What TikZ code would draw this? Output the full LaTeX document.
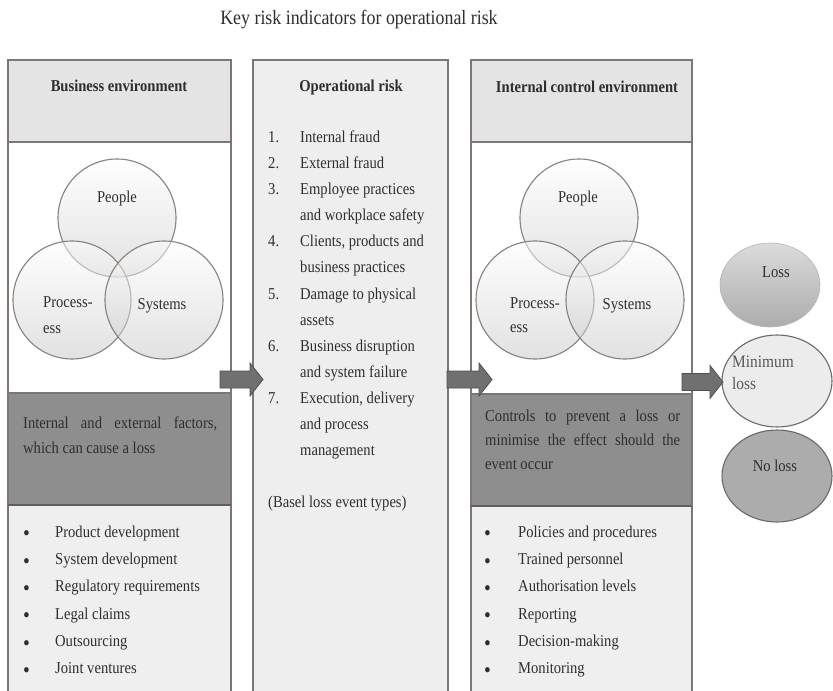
\documentclass[tikz,border=0pt]{standalone}
\usepackage{fontspec}
\setmainfont[FakeStretch=0.88]{Liberation Serif}
\usetikzlibrary{shapes.geometric}
\definecolor{ink}{HTML}{2E2E2E}
\definecolor{frame}{HTML}{7E7672}
\definecolor{hdrfill}{HTML}{E4E4E4}
\definecolor{bandfill}{HTML}{8E8E8E}
\definecolor{listfill}{HTML}{EFEFEF}
\definecolor{midfill}{HTML}{EEEEEE}
\definecolor{arrowfill}{HTML}{707070}
\definecolor{arrowdraw}{HTML}{4F4F4F}
\definecolor{venn}{HTML}{8A807B}
\definecolor{ellborder}{HTML}{6A6A6A}
\hyphenpenalty=10000
\newcommand{\myblockarrow}[3]{%
  \draw[blockarr] (#1) ++(0,-8.5) -- ++(#3,0) -- ++(0,-8) -- (#2) -- ++(-13,16.5) -- ++(0,-8) -- ++(-#3,0) -- cycle;}
\begin{document}
\begin{tikzpicture}[x=1pt,y=-1pt,
  txt/.style={font=\fontsize{16.6}{20}\selectfont, text=ink, inner sep=0pt, anchor=west, text height=11pt, text depth=3pt},
  bul/.style={font=\fontsize{22}{22}\selectfont, text=ink, inner sep=0pt, anchor=west, text height=9pt, text depth=0pt},
  hdrtxt/.style={font=\fontsize{16.6}{20}\selectfont\bfseries, text=ink, inner sep=0pt, text height=11pt, text depth=3pt},
  bandtxt/.style={font=\fontsize{16.6}{25}\selectfont, text=ink, inner sep=0pt, align=justify, anchor=north west},
  frameline/.style={draw=frame, line width=1.2pt},
  vennc/.style={top color=white, bottom color=gray!45, fill opacity=0.5, draw=venn, line width=1.1pt},
  blockarr/.style={draw=arrowdraw, fill=arrowfill, line width=0.8pt, line join=miter},
  outcome/.style={ellipse, draw=ellborder, line width=1.1pt, inner sep=0pt, text=ink}
]
\useasboundingbox (0,0) rectangle (833,691);
\clip (0,0) rectangle (833,691);
\fill[white] (0,0) rectangle (833,691);

% title
\node[font=\fontsize{20.3}{24}\selectfont, text=ink, inner sep=0pt] (title) at (359,20) {Key risk indicators for operational risk};

% ---------- left column ----------
\fill[hdrfill] (8,60) rectangle (231,142);
\fill[white] (8,142) rectangle (231,393);
\fill[bandfill] (8,393) rectangle (231,505);
\fill[listfill] (8,505) rectangle (231,700);
\draw[frameline] (8,700) -- (8,60) -- (231,60) -- (231,700);
\draw[frameline] (8,142) -- (231,142);
\draw[frameline] (8,393) -- (231,393);
\draw[draw=frame!80!black, line width=1.6pt] (8,505) -- (231,505);

\node[hdrtxt] (lhead) at (119,87) {Business environment};

\shade[vennc] (117,218) circle[radius=59pt];
\shade[vennc] (72,300) circle[radius=59pt];
\shade[vennc] (164,300) circle[radius=59pt];
\node[txt, anchor=center] (lpeople) at (117,198) {People};
\node[txt, anchor=north west, align=left, font=\fontsize{16.6}{26}\selectfont, text height=, text depth=] (lproc) at (43,296) {Process-\\ess};
\node[txt, anchor=center] (lsys) at (162,305) {Systems};

\node[bandtxt, text width=194pt] (lband) at (23,417) {Internal and external factors, which can cause a loss};

\foreach \t [count=\i] in {Product development, System development, Regulatory requirements, Legal claims, Outsourcing, Joint ventures}{
  \node[txt] (lb\i) at (55,506+27.3*\i) {\t};
  \node[bul] (lbd\i) at (23,509+27.3*\i) {•};
}

% ---------- middle column ----------
\fill[midfill] (253,60) rectangle (448,700);
\draw[frameline] (253,700) -- (253,60) -- (448,60) -- (448,700);
\node[hdrtxt] (mhead) at (351,87) {Operational risk};
\foreach \y/\t [count=\i] in {138/Internal fraud, 164/External fraud, 190/Employee practices, 216/and workplace safety, 242/{Clients, products and}, 268/business practices, 295/Damage to physical, 321/assets, 347/Business disruption, 373/and system failure, 399/{Execution, delivery}, 425/and process, 451/management}{
  \node[txt] (m\i) at (300,\y) {\t};
}
\foreach \y/\k in {138/1, 164/2, 190/3, 242/4, 295/5, 347/6, 399/7}{
  \node[txt] (n\k) at (268,\y) {\k.};
}
\node[txt] (basel) at (268,503) {(Basel loss event types)};

% ---------- right column ----------
\fill[hdrfill] (471,60) rectangle (692,142);
\fill[white] (471,142) rectangle (692,394);
\fill[bandfill] (471,394) rectangle (692,506);
\fill[listfill] (471,506) rectangle (692,700);
\draw[frameline] (471,700) -- (471,60) -- (692,60) -- (692,700);
\draw[frameline] (471,142) -- (692,142);
\draw[frameline] (471,394) -- (692,394);
\draw[draw=frame!80!black, line width=1.6pt] (471,506) -- (692,506);

\node[hdrtxt] (rhead) at (587,88) {Internal control environment};

\shade[vennc] (579,218) circle[radius=59pt];
\shade[vennc] (535,300) circle[radius=59pt];
\shade[vennc] (625,300) circle[radius=59pt];
\node[txt, anchor=center] (rpeople) at (578,198) {People};
\node[txt, anchor=north west, align=left, font=\fontsize{16.6}{24}\selectfont, text height=, text depth=] (rproc) at (510,297) {Process-\\ess};
\node[txt, anchor=center] (rsys) at (627,305) {Systems};

\node[bandtxt, text width=195pt, font=\fontsize{16.6}{24}\selectfont] (rband) at (485,410) {Controls to prevent a loss or minimise the effect should the event occur};

\foreach \t [count=\i] in {Policies and procedures, Trained personnel, Authorisation levels, Reporting, Decision-making, Monitoring}{
  \node[txt] (rb\i) at (518,506+27.3*\i) {\t};
  \node[bul] (rbd\i) at (484,509+27.3*\i) {•};
}

% ---------- outcomes ----------
\node[ellipse, inner sep=0pt, minimum width=100pt, minimum height=84pt, top color=gray!28, bottom color=gray!65, draw=gray!58, line width=0.6pt] (loss) at (770,285) {};
\node[txt, anchor=center] (losst) at (776,273) {Loss};
\node[outcome, fill=gray!15, minimum width=110pt, minimum height=92pt] (minloss) at (777,381) {};
\node[txt, anchor=north west, align=left, font=\fontsize{17.5}{22}\selectfont, text=ink!80, text height=, text depth=] (minlosst) at (732,356) {Minimum\\loss};
\node[outcome, fill=gray!65, minimum width=110pt, minimum height=92pt] (noloss) at (777,476) {};
\node[txt, anchor=center] (nolosst) at (775,467) {No loss};

% ---------- block arrows ----------
\coordinate (a1tail) at (220,379.5);
\coordinate (a1tip) at (263,379.5);
\coordinate (a2tail) at (447,379.5);
\coordinate (a2tip) at (492,379.5);
\coordinate (a3tail) at (682,382);
\coordinate (a3tip) at (723,382);
\myblockarrow{a1tail}{a1tip}{30}
\myblockarrow{a2tail}{a2tip}{32}
\myblockarrow{a3tail}{a3tip}{28}
\end{tikzpicture}
\end{document}
